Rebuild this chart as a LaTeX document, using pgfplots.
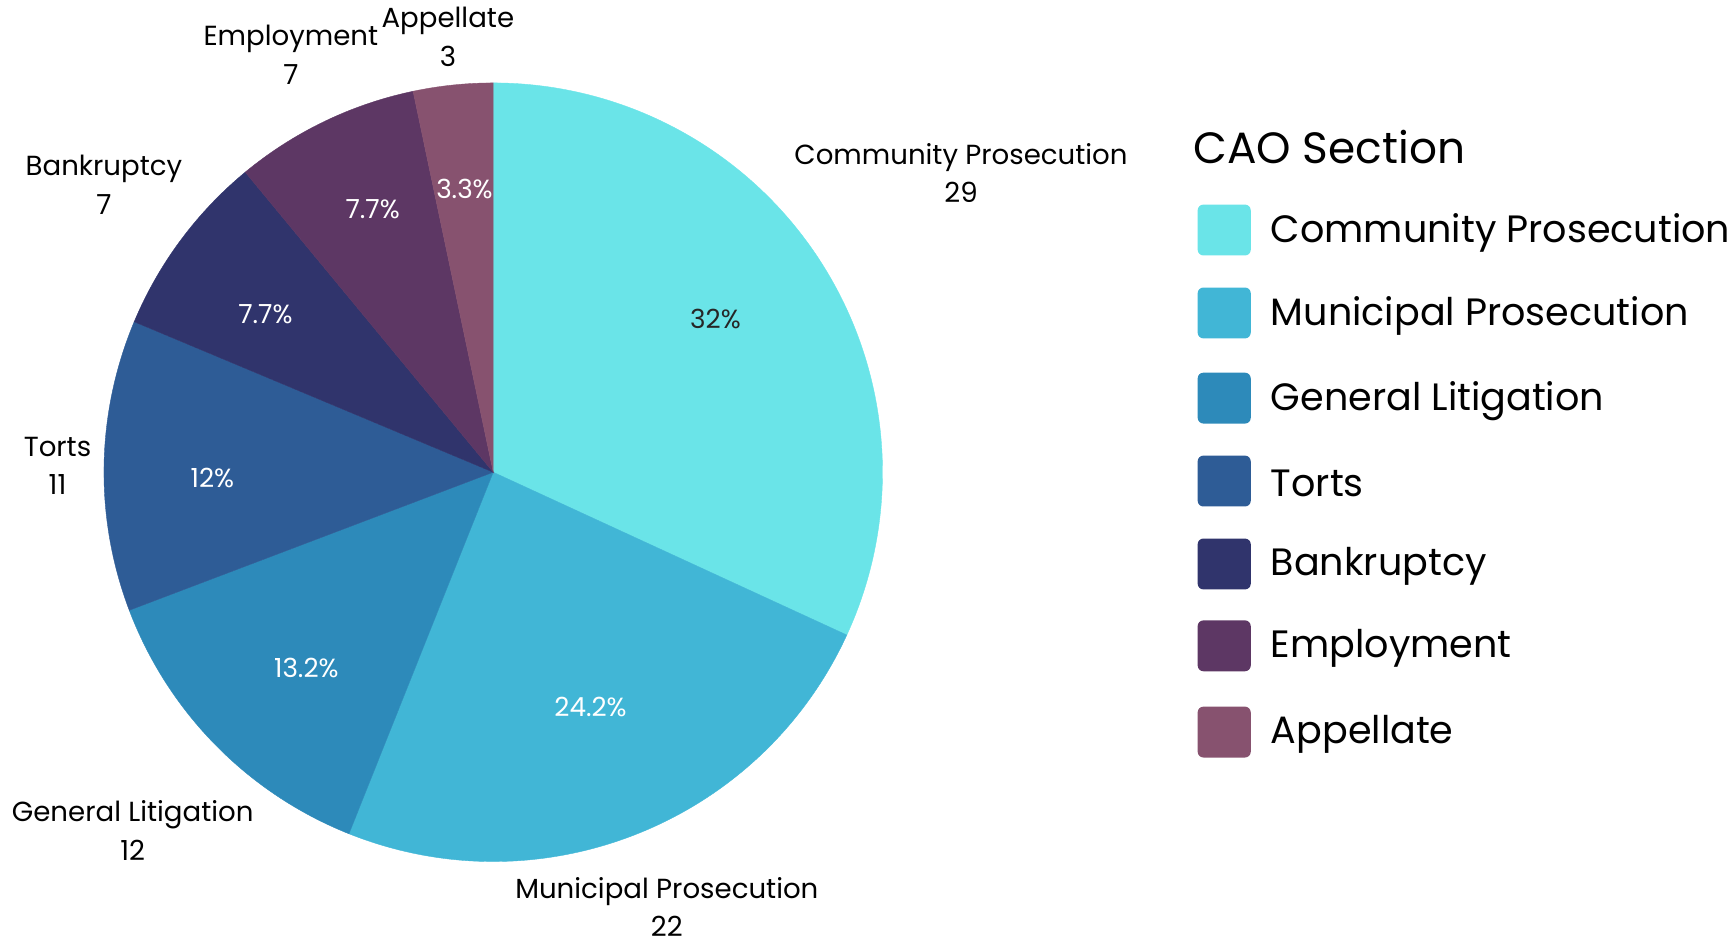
\documentclass[border=0pt]{standalone}
\usepackage{pgfplots}
\pgfplotsset{compat=1.18}
\usepackage{pgfplotstable}
\usepackage{fontspec}
\setmainfont{Poppins}
\definecolor{cA}{HTML}{6AE4E8}
\definecolor{cB}{HTML}{41B6D6}
\definecolor{cC}{HTML}{2D8ABA}
\definecolor{cD}{HTML}{2E5C96}
\definecolor{cE}{HTML}{30346C}
\definecolor{cF}{HTML}{5D3764}
\definecolor{cG}{HTML}{87526F}
\pgfplotstableread[col sep=comma]{
name,value,col
Community Prosecution,29,cA
Municipal Prosecution,22,cB
General Litigation,12,cC
Torts,11,cD
Bankruptcy,7,cE
Employment,7,cF
Appellate,3,cG
}\datatable
\newcommand{\R}{3.592cm}
\begin{document}
\begin{tikzpicture}
\begin{axis}[
  width=16cm, height=8.6837cm, scale only axis,
  xmin=0, xmax=1568, ymin=0, ymax=851,
  hide axis, clip=false,
]
% total
\gdef\total{0}
\pgfplotsforeachungrouped \i in {0,...,6}{%
  \pgfplotstablegetelem{\i}{value}\of\datatable
  \pgfmathsetmacro\tmp{\total+\pgfplotsretval}%
  \global\let\total\tmp
}
\gdef\startang{90}
\pgfplotsforeachungrouped \i in {0,...,6}{%
  \pgfplotstablegetelem{\i}{value}\of\datatable
  \let\v\pgfplotsretval
  \pgfplotstablegetelem{\i}{col}\of\datatable
  \let\c\pgfplotsretval
  \pgfmathsetmacro\endang{\startang-\v/\total*360}%
  \edef\cmd{\noexpand\fill[\c, draw=\c, line width=0.1pt] (axis cs:446,424) -- ++(\startang:\R) arc[start angle=\startang, end angle=\endang, radius=\R] -- cycle;}%
  \cmd
  \global\let\startang\endang
}
% percentage labels
\begin{scope}[every node/.style={font=\fontsize{6.9}{8}\selectfont}]
\node[text=black!85] at (axis cs:647,563) {32\%};
\node[text=white] at (axis cs:534,212) {24.2\%};
\node[text=white] at (axis cs:277,247) {13.2\%};
\node[text=white] at (axis cs:192,419) {12\%};
\node[text=white] at (axis cs:240,567) {7.7\%};
\node[text=white] at (axis cs:337,662) {7.7\%};
\node[text=white] at (axis cs:420,680) {3.3\%};
\end{scope}
% outer labels
\begin{scope}[every node/.style={font=\fontsize{7.25}{10.1}\selectfont, align=center, text=black}]
\node at (axis cs:869,694.5) {Community Prosecution\\29};
\node at (axis cs:603,31) {Municipal Prosecution\\22};
\node at (axis cs:120,100) {General Litigation\\12};
\node at (axis cs:52,429.5) {Torts\\11};
\node at (axis cs:94,684) {Bankruptcy\\7};
\node at (axis cs:263,801.5) {Employment\\7};
\node at (axis cs:405,817.5) {Appellate\\3};
\end{scope}
% legend
\node[anchor=west, font=\fontsize{11.5}{14}\selectfont] at (axis cs:1067,718) {CAO Section};
\begin{scope}[every node/.style={anchor=west, font=\fontsize{10}{12}\selectfont}]
\fill[cA, rounded corners=1.5pt] (axis cs:1083,620) rectangle (axis cs:1131,666);
\node at (axis cs:1137,640) {Community Prosecution};
\fill[cB, rounded corners=1.5pt] (axis cs:1083,545) rectangle (axis cs:1131,591);
\node at (axis cs:1137,565) {Municipal Prosecution};
\fill[cC, rounded corners=1.5pt] (axis cs:1083,468) rectangle (axis cs:1131,514);
\node at (axis cs:1137,488) {General Litigation};
\fill[cD, rounded corners=1.5pt] (axis cs:1083,393) rectangle (axis cs:1131,439);
\node at (axis cs:1137,414) {Torts};
\fill[cE, rounded corners=1.5pt] (axis cs:1083,318) rectangle (axis cs:1131,364);
\node at (axis cs:1137,339) {Bankruptcy};
\fill[cF, rounded corners=1.5pt] (axis cs:1083,244) rectangle (axis cs:1131,290);
\node at (axis cs:1137,265) {Employment};
\fill[cG, rounded corners=1.5pt] (axis cs:1083,166) rectangle (axis cs:1131,212);
\node at (axis cs:1137,187) {Appellate};
\end{scope}
\end{axis}
\pgfresetboundingbox
\path (current axis.south west) rectangle (current axis.north east);
\end{tikzpicture}
\end{document}
